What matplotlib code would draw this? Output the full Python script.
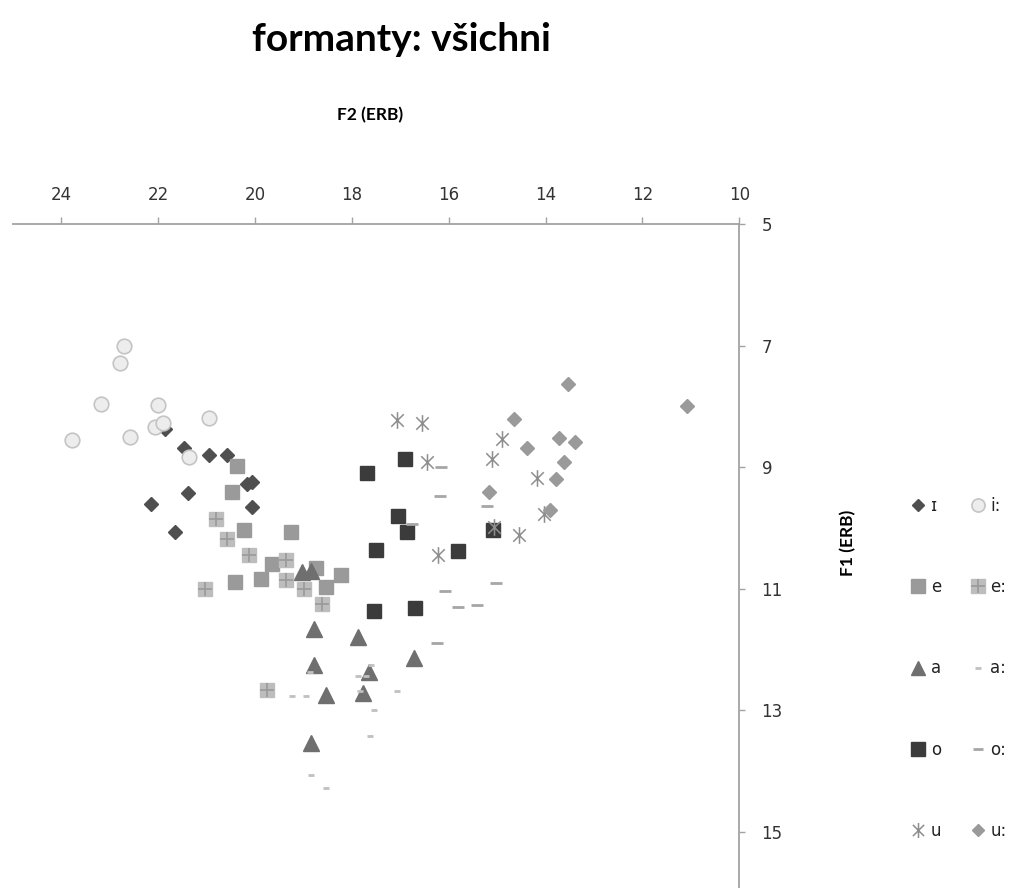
import matplotlib
matplotlib.use("Agg")
from matplotlib.pyplot import *
from matplotlib.path import Path

# formanty (ERB): F2 = x, F1 = y
f2_I = [21.85, 21.46, 20.95, 20.58, 20.17, 20.07, 21.39, 22.15, 20.06, 21.65]
f1_I = [8.37, 8.68, 8.80, 8.80, 9.28, 9.25, 9.42, 9.60, 9.65, 10.07]

f2_ii = [22.70, 22.78, 23.17, 22.00, 20.94, 22.07, 21.89, 23.77, 22.57, 21.36]
f1_ii = [7.00, 7.28, 7.96, 7.98, 8.19, 8.33, 8.27, 8.55, 8.51, 8.83]

f2_e = [20.37, 20.48, 20.23, 19.25, 19.64, 20.41, 19.88, 18.73, 18.53, 18.22]
f1_e = [8.98, 9.40, 10.04, 10.07, 10.59, 10.89, 10.84, 10.66, 10.97, 10.78]

f2_ee = [20.80, 20.58, 20.13, 19.35, 19.35, 21.02, 18.99, 18.61, 19.74]
f1_ee = [9.85, 10.18, 10.44, 10.52, 10.85, 11.00, 11.00, 11.25, 12.67]

f2_a = [19.03, 18.84, 18.78, 17.87, 16.71, 18.79, 17.65, 18.54, 17.76, 18.85]
f1_a = [10.72, 10.70, 11.66, 11.80, 12.14, 12.26, 12.37, 12.75, 12.72, 13.54]

f2_aa = [18.87, 19.23, 18.94, 17.60, 17.87, 17.70, 17.84, 17.07, 17.54, 17.63, 18.84, 18.53]
f1_aa = [12.37, 12.77, 12.77, 12.25, 12.43, 12.43, 12.68, 12.68, 12.99, 13.42, 14.06, 14.27]

f2_o = [17.69, 16.90, 17.05, 16.87, 17.51, 15.81, 17.55, 16.70, 15.08]
f1_o = [9.09, 8.87, 9.80, 10.07, 10.36, 10.38, 11.37, 11.32, 10.03]

f2_oo = [16.16, 16.17, 15.20, 16.75, 15.03, 16.07, 15.81, 15.42, 16.24]
f1_oo = [9.00, 9.47, 9.63, 9.94, 10.91, 11.04, 11.30, 11.27, 11.89]

f2_u = [17.07, 16.56, 16.45, 14.89, 15.10, 14.17, 14.03, 15.06, 14.54, 16.23]
f1_u = [8.22, 8.28, 8.92, 8.53, 8.87, 9.18, 9.77, 9.99, 10.11, 10.44]

f2_uu = [13.54, 14.65, 14.39, 13.72, 13.40, 13.61, 13.79, 15.17, 13.90, 11.07]
f1_uu = [7.63, 8.20, 8.69, 8.52, 8.58, 8.92, 9.20, 9.40, 9.70, 7.99]

x_ticks = [24, 22, 20, 18, 16, 14, 12, 10]
y_ticks = [5, 7, 9, 11, 13, 15]

popisky_1 = ["ɪ", "e", "a", "o", "u"]
popisky_2 = ["i:", "e:", "a:", "o:", "u:"]

# hvezdicka jako v excelu (svisla cara + X)
hvezda = Path(
  [(0, -1), (0, 1), (-0.75, -0.75), (0.75, 0.75), (-0.75, 0.75), (0.75, -0.75)],
  [Path.MOVETO, Path.LINETO] * 3
)

fig = figure(figsize=(10.15, 8.88), dpi=100)
ax = fig.add_axes([0.0125, 0.0, 0.7159, 0.7477])

h_I, = ax.plot(f2_I, f1_I, "D", color="#4f4f4f", ms=7, ls="none")
h_ii, = ax.plot(f2_ii, f1_ii, "o", mfc="#ededed", mec="#c4c4c4", mew=1.2, ms=10.5, ls="none")
h_e, = ax.plot(f2_e, f1_e, "s", color="#9a9a9a", ms=10.5, ls="none")
h_ee1, = ax.plot(f2_ee, f1_ee, "s", color="#bdbdbd", ms=10.5, ls="none")
h_ee2, = ax.plot(f2_ee, f1_ee, "+", color="#9a9a9a", ms=10.5, mew=1.2, ls="none")
h_a, = ax.plot(f2_a, f1_a, "^", color="#6f6f6f", ms=11, ls="none")
h_aa, = ax.plot(f2_aa, f1_aa, "_", color="#c0c0c0", ms=5, mew=2, ls="none")
h_o, = ax.plot(f2_o, f1_o, "s", color="#3b3b3b", ms=10.5, ls="none")
h_oo, = ax.plot(f2_oo, f1_oo, "_", color="#a6a6a6", ms=8.5, mew=2, ls="none")
h_u, = ax.plot(f2_u, f1_u, marker=hvezda, color="#8e8e8e", mfc="none", ms=12, mew=1.1, ls="none")
h_uu, = ax.plot(f2_uu, f1_uu, "D", color="#9a9a9a", ms=7, ls="none")

# osy: x nahore, y vpravo, obe obracene
ax.set_xlim(25, 10)
ax.set_ylim(15.92, 5)
ax.xaxis.tick_top()
ax.yaxis.tick_right()
ax.set_xticks(x_ticks)
ax.set_yticks(y_ticks)
ax.spines["left"].set_visible(False)
ax.spines["bottom"].set_visible(False)
for s in ["top", "right"]:
  ax.spines[s].set_color("#a3a3a3")
  ax.spines[s].set_linewidth(1.3)
ax.tick_params(axis="x", direction="out", length=5, width=1, color="#a3a3a3",
               pad=9.5, labelsize=12, labelcolor="#333333")
ax.tick_params(axis="y", direction="out", length=4, width=1, color="#a3a3a3",
               pad=12, labelsize=12, labelcolor="#333333")
ax.patch.set_visible(False)

# titulek a popisky os
fig.text(0.3956, 0.955, "formanty: všichni", family="Lato", weight="bold",
         fontsize=28, ha="center", va="center")
fig.text(0.3645, 0.870, "F2 (ERB)", family="Lato", weight="bold",
         fontsize=12.5, ha="center", va="center")
fig.text(0.836, 0.389, "F1 (ERB)", family="Lato", weight="bold",
         fontsize=12.5, ha="center", va="center", rotation=90)

# legenda - dva sloupce po peti
handles = [h_I, h_e, h_a, h_o, h_u, h_ii, (h_ee1, h_ee2), h_aa, h_oo, h_uu]
fig.legend(handles, popisky_1 + popisky_2, ncol=2, frameon=False,
           loc="upper left", bbox_to_anchor=(0.889, 0.450), borderpad=0,
           handlelength=0.92, handletextpad=0.28, columnspacing=1.75,
           labelspacing=3.8, markerscale=0.9, fontsize=12,
           labelcolor="#222222")

savefig("out.png", dpi=100)
